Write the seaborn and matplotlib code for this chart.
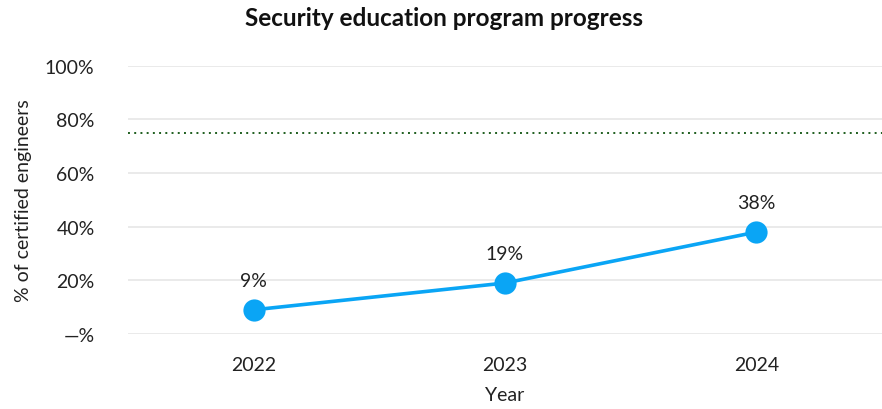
import matplotlib
matplotlib.use("Agg")
import matplotlib.pyplot as plt
import pandas as pd
import seaborn as sns
from matplotlib.ticker import FixedLocator, FuncFormatter

# データ
years = ["2022", "2023", "2024"]
certified_pct = [9, 19, 38]
target_pct = 75
y_ticks = [0, 20, 40, 60, 80, 100]

sns.set_theme(style="white")
plt.rcParams["font.family"] = ["Lato", "DejaVu Sans"]

df = pd.DataFrame({"year": years, "pct": certified_pct})

fig = plt.figure(figsize=(8.82, 4.10), dpi=100)
ax = fig.add_axes([0.145, 0.183, 0.855, 0.654])

line_color = "#0AA5F5"
sns.lineplot(data=df, x="year", y="pct", ax=ax, color=line_color, linewidth=2.6,
             marker="o", markersize=16, markeredgewidth=0, sort=False)

for i, v in enumerate(certified_pct):
    ax.annotate(f"{v}%", (i, v), xytext=(0, 15), textcoords="offset points",
                ha="center", va="bottom", fontsize=14, color="#222222")

ax.axhline(target_pct, color="#1E5E1E", linestyle=(0, (1, 2.2)), linewidth=1.4, zorder=1)

ax.set_xlim(-0.5, 2.5)
ax.set_ylim(0, 100)
ax.yaxis.set_major_locator(FixedLocator(y_ticks))
ax.yaxis.set_major_formatter(FuncFormatter(lambda v, _: "—%" if v == 0 else f"{v:.0f}%"))
ax.grid(axis="y", color="#E6E6E6", linewidth=1.2)
ax.grid(axis="x", visible=False)
for s in ax.spines.values():
    s.set_visible(False)
ax.tick_params(axis="both", length=0, labelsize=14, colors="#222222")
ax.tick_params(axis="y", pad=24)
ax.tick_params(axis="x", pad=16)
ax.set_xlabel("Year", fontsize=14, color="#222222", labelpad=9)
ax.set_ylabel("% of certified engineers", fontsize=14, color="#222222", labelpad=9)
fig.suptitle("Security education program progress", fontsize=17.5, fontweight="bold",
             color="#111111", x=0.503, y=0.982, va="top")

fig.savefig("out.png", dpi=100)
plt.close(fig)
